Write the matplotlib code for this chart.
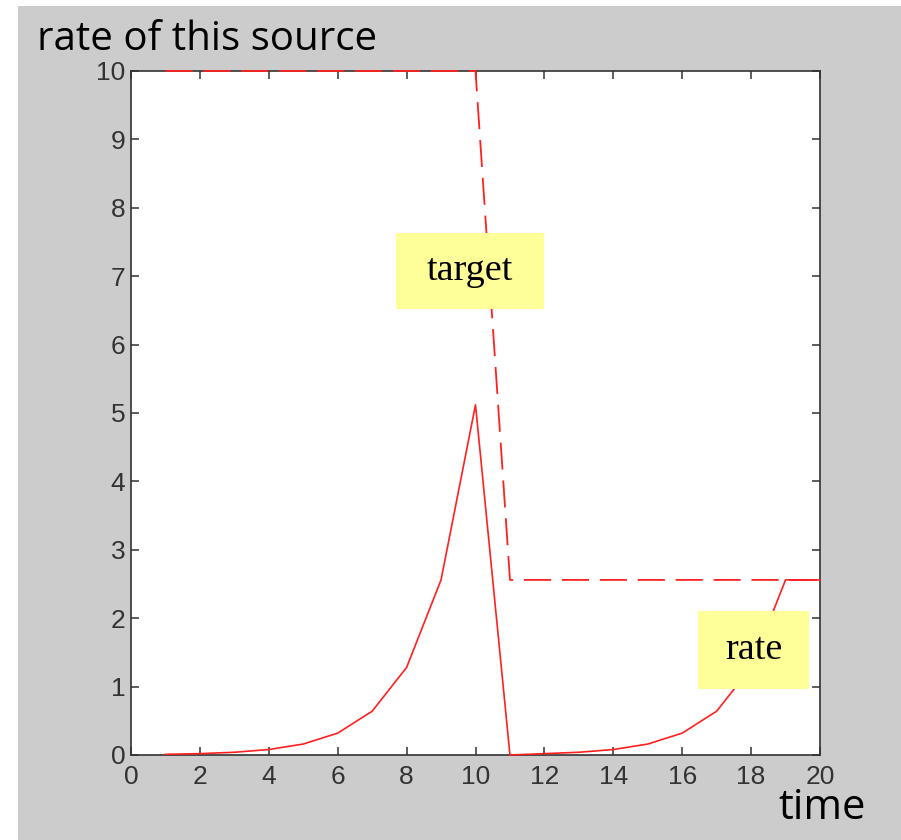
import matplotlib
matplotlib.use("Agg")
import matplotlib.pyplot as plt
from matplotlib.patches import Rectangle

# data
time = [1, 2, 3, 4, 5, 6, 7, 8, 9, 10, 11, 12, 13, 14, 15, 16, 17, 18, 19, 20]
rate = [0.01, 0.02, 0.04, 0.08, 0.16, 0.32, 0.64, 1.28, 2.56, 5.12,
        0.0, 0.02, 0.04, 0.08, 0.16, 0.32, 0.64, 1.28, 2.56, 2.56]
target = [10, 10, 10, 10, 10, 10, 10, 10, 10, 10,
          2.56, 2.56, 2.56, 2.56, 2.56, 2.56, 2.56, 2.56, 2.56, 2.56]
xticks = [0, 2, 4, 6, 8, 10, 12, 14, 16, 18, 20]
yticks = [0, 1, 2, 3, 4, 5, 6, 7, 8, 9, 10]

W, H = 901, 840
fig = plt.figure(figsize=(W / 100, H / 100), dpi=100)
fig.patch.set_facecolor("white")
fig.add_artist(Rectangle((18 / W, 0), 1 - 18 / W, 1 - 6 / H,
                         transform=fig.transFigure, facecolor="#cccccc",
                         edgecolor="none", zorder=0))

ax = fig.add_axes([131 / W, (H - 755) / H, 689 / W, 684 / H])
ax.set_facecolor("white")
ax.plot(time, target, color="#ff2020", lw=1.3, dashes=(15, 6), zorder=3, clip_on=False)
ax.plot(time, rate, color="#ff2020", lw=1.2, zorder=3, clip_on=False)
ax.set_xlim(0, 20)
ax.set_ylim(0, 10)
ax.set_xticks(xticks)
ax.set_yticks(yticks)
for s in ax.spines.values():
    s.set_color("#333333")
    s.set_linewidth(1.2)
ax.tick_params(direction="in", length=6, width=1.1, color="#333333",
               top=True, right=True, labelsize=19, labelcolor="#333333")
ax.tick_params(axis="x", pad=7)
ax.tick_params(axis="y", pad=4)
for lab in ax.get_xticklabels() + ax.get_yticklabels():
    lab.set_family(["Liberation Sans Narrow", "Liberation Sans", "DejaVu Sans"])

fig.text(37 / W, 1 - 40 / H, "rate of this source", fontsize=29,
         family=["Open Sans", "DejaVu Sans"], va="center", ha="left", color="black")
fig.text(822 / W, 1 - 808 / H, "time", fontsize=30,
         family=["Open Sans", "DejaVu Sans"], va="center", ha="center", color="black")

# yellow labels
for (x0, y0, x1, y1, t) in [(396, 233, 544, 309, "target"), (698, 611, 809, 689, "rate")]:
    fig.add_artist(Rectangle((x0 / W, 1 - y1 / H), (x1 - x0) / W, (y1 - y0) / H,
                             transform=fig.transFigure, facecolor="#ffff99",
                             edgecolor="none", zorder=5))
    fig.text((x0 + x1) / 2 / W, 1 - (y0 + y1) / 2 / H, t, fontsize=27.5,
             family=["Liberation Serif", "DejaVu Serif"], ha="center", va="center",
             zorder=6)

fig.savefig("out.png", dpi=100, facecolor=fig.get_facecolor())
